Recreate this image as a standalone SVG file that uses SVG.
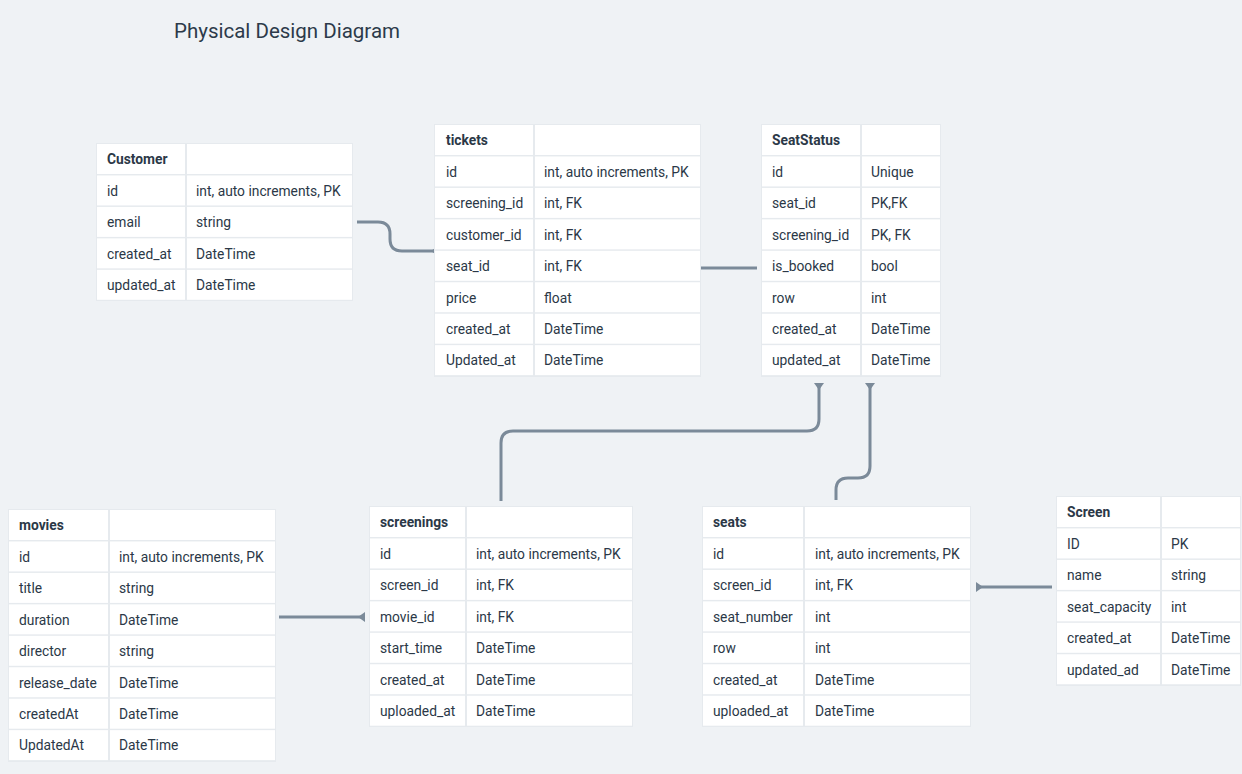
<svg xmlns="http://www.w3.org/2000/svg" width="1242" height="774" viewBox="0 0 1242 774">
<style>
.bg{fill:#eff2f5}
.frame{fill:#e6eaee}
.c{fill:#ffffff}
.t{font-family:Roboto,"Liberation Sans",sans-serif;font-size:13.8px;fill:#2b3847}
.h{font-family:Roboto,"Liberation Sans",sans-serif;font-size:13.8px;font-weight:bold;fill:#2b3847}
.title{font-family:Roboto,"Liberation Sans",sans-serif;font-size:20.5px;fill:#2c3a4a}
.conn{fill:none;stroke:#7b8a99;stroke-width:3}
</style>
<defs>
<marker id="bar" viewBox="0 0 7 10" refX="7" refY="5" markerWidth="7" markerHeight="10" markerUnits="userSpaceOnUse" orient="auto">
<path d="M7 0 L7 10 L0 5 Z" fill="#7b8a99"/>
</marker>
</defs>
<rect class="bg" x="0" y="0" width="1242" height="774"/>
<text class="title" x="174" y="38">Physical Design Diagram</text>

<g id="connectors">
<path class="conn" d="M357 222 H378 Q390 222 390 234 V239 Q390 251 402 251 H438" marker-end="url(#bar)"/>
<path class="conn" d="M700 268 H757"/>
<path class="conn" d="M501 501 V443 Q501 431 513 431 H807 Q819 431 819 419 V383" marker-end="url(#bar)"/>
<path class="conn" d="M836 500 V490 Q836 478 848 478 H858 Q870 478 870 466 V383" marker-end="url(#bar)"/>
<path class="conn" d="M279 617 H365" marker-end="url(#bar)"/>
<path class="conn" d="M1052 587 H976" marker-end="url(#bar)"/>
</g>

<g id="Customer" transform="translate(97,144)">
<rect class="frame" x="-1" y="-1" width="257" height="158"/>
<rect class="c" x="0" y="0" width="88" height="30"/><rect class="c" x="90" y="0" width="165" height="30"/>
<rect class="c" x="0" y="31.45" width="88" height="30"/><rect class="c" x="90" y="31.45" width="165" height="30"/>
<rect class="c" x="0" y="62.9" width="88" height="30"/><rect class="c" x="90" y="62.9" width="165" height="30"/>
<rect class="c" x="0" y="94.35" width="88" height="30"/><rect class="c" x="90" y="94.35" width="165" height="30"/>
<rect class="c" x="0" y="125.8" width="88" height="30"/><rect class="c" x="90" y="125.8" width="165" height="30"/>
<text class="h" x="10" y="20.3">Customer</text>
<text class="t" x="10" y="51.75">id</text><text class="t" x="99" y="51.75">int, auto increments, PK</text>
<text class="t" x="10" y="83.2">email</text><text class="t" x="99" y="83.2">string</text>
<text class="t" x="10" y="114.65">created_at</text><text class="t" x="99" y="114.65">DateTime</text>
<text class="t" x="10" y="146.1">updated_at</text><text class="t" x="99" y="146.1">DateTime</text>
</g>

<g id="tickets" transform="translate(435,125)">
<rect class="frame" x="-1" y="-1" width="267" height="253"/>
<rect class="c" x="0" y="0" width="98" height="30"/><rect class="c" x="100" y="0" width="165" height="30"/>
<rect class="c" x="0" y="31.45" width="98" height="30"/><rect class="c" x="100" y="31.45" width="165" height="30"/>
<rect class="c" x="0" y="62.9" width="98" height="30"/><rect class="c" x="100" y="62.9" width="165" height="30"/>
<rect class="c" x="0" y="94.35" width="98" height="30"/><rect class="c" x="100" y="94.35" width="165" height="30"/>
<rect class="c" x="0" y="125.8" width="98" height="30"/><rect class="c" x="100" y="125.8" width="165" height="30"/>
<rect class="c" x="0" y="157.25" width="98" height="30"/><rect class="c" x="100" y="157.25" width="165" height="30"/>
<rect class="c" x="0" y="188.7" width="98" height="30"/><rect class="c" x="100" y="188.7" width="165" height="30"/>
<rect class="c" x="0" y="220.15" width="98" height="30"/><rect class="c" x="100" y="220.15" width="165" height="30"/>
<text class="h" x="11" y="20.3">tickets</text>
<text class="t" x="11" y="51.75">id</text><text class="t" x="109" y="51.75">int, auto increments, PK</text>
<text class="t" x="11" y="83.2">screening_id</text><text class="t" x="109" y="83.2">int, FK</text>
<text class="t" x="11" y="114.65">customer_id</text><text class="t" x="109" y="114.65">int, FK</text>
<text class="t" x="11" y="146.1">seat_id</text><text class="t" x="109" y="146.1">int, FK</text>
<text class="t" x="11" y="177.55">price</text><text class="t" x="109" y="177.55">float</text>
<text class="t" x="11" y="209">created_at</text><text class="t" x="109" y="209">DateTime</text>
<text class="t" x="11" y="240.45">Updated_at</text><text class="t" x="109" y="240.45">DateTime</text>
</g>

<g id="SeatStatus" transform="translate(762,125)">
<rect class="frame" x="-1" y="-1" width="180" height="253"/>
<rect class="c" x="0" y="0" width="98" height="30"/><rect class="c" x="100" y="0" width="78" height="30"/>
<rect class="c" x="0" y="31.45" width="98" height="30"/><rect class="c" x="100" y="31.45" width="78" height="30"/>
<rect class="c" x="0" y="62.9" width="98" height="30"/><rect class="c" x="100" y="62.9" width="78" height="30"/>
<rect class="c" x="0" y="94.35" width="98" height="30"/><rect class="c" x="100" y="94.35" width="78" height="30"/>
<rect class="c" x="0" y="125.8" width="98" height="30"/><rect class="c" x="100" y="125.8" width="78" height="30"/>
<rect class="c" x="0" y="157.25" width="98" height="30"/><rect class="c" x="100" y="157.25" width="78" height="30"/>
<rect class="c" x="0" y="188.7" width="98" height="30"/><rect class="c" x="100" y="188.7" width="78" height="30"/>
<rect class="c" x="0" y="220.15" width="98" height="30"/><rect class="c" x="100" y="220.15" width="78" height="30"/>
<text class="h" x="10" y="20.3">SeatStatus</text>
<text class="t" x="10" y="51.75">id</text><text class="t" x="109" y="51.75">Unique</text>
<text class="t" x="10" y="83.2">seat_id</text><text class="t" x="109" y="83.2">PK,FK</text>
<text class="t" x="10" y="114.65">screening_id</text><text class="t" x="109" y="114.65">PK, FK</text>
<text class="t" x="10" y="146.1">is_booked</text><text class="t" x="109" y="146.1">bool</text>
<text class="t" x="10" y="177.55">row</text><text class="t" x="109" y="177.55">int</text>
<text class="t" x="10" y="209">created_at</text><text class="t" x="109" y="209">DateTime</text>
<text class="t" x="10" y="240.45">updated_at</text><text class="t" x="109" y="240.45">DateTime</text>
</g>

<g id="movies" transform="translate(9,510)">
<rect class="frame" x="-1" y="-1" width="268" height="253"/>
<rect class="c" x="0" y="0" width="99" height="30"/><rect class="c" x="101" y="0" width="165" height="30"/>
<rect class="c" x="0" y="31.45" width="99" height="30"/><rect class="c" x="101" y="31.45" width="165" height="30"/>
<rect class="c" x="0" y="62.9" width="99" height="30"/><rect class="c" x="101" y="62.9" width="165" height="30"/>
<rect class="c" x="0" y="94.35" width="99" height="30"/><rect class="c" x="101" y="94.35" width="165" height="30"/>
<rect class="c" x="0" y="125.8" width="99" height="30"/><rect class="c" x="101" y="125.8" width="165" height="30"/>
<rect class="c" x="0" y="157.25" width="99" height="30"/><rect class="c" x="101" y="157.25" width="165" height="30"/>
<rect class="c" x="0" y="188.7" width="99" height="30"/><rect class="c" x="101" y="188.7" width="165" height="30"/>
<rect class="c" x="0" y="220.15" width="99" height="30"/><rect class="c" x="101" y="220.15" width="165" height="30"/>
<text class="h" x="10" y="20.3">movies</text>
<text class="t" x="10" y="51.75">id</text><text class="t" x="110" y="51.75">int, auto increments, PK</text>
<text class="t" x="10" y="83.2">title</text><text class="t" x="110" y="83.2">string</text>
<text class="t" x="10" y="114.65">duration</text><text class="t" x="110" y="114.65">DateTime</text>
<text class="t" x="10" y="146.1">director</text><text class="t" x="110" y="146.1">string</text>
<text class="t" x="10" y="177.55">release_date</text><text class="t" x="110" y="177.55">DateTime</text>
<text class="t" x="10" y="209">createdAt</text><text class="t" x="110" y="209">DateTime</text>
<text class="t" x="10" y="240.45">UpdatedAt</text><text class="t" x="110" y="240.45">DateTime</text>
</g>

<g id="screenings" transform="translate(370,507)">
<rect class="frame" x="-1" y="-1" width="264" height="221"/>
<rect class="c" x="0" y="0" width="95" height="30"/><rect class="c" x="97" y="0" width="165" height="30"/>
<rect class="c" x="0" y="31.45" width="95" height="30"/><rect class="c" x="97" y="31.45" width="165" height="30"/>
<rect class="c" x="0" y="62.9" width="95" height="30"/><rect class="c" x="97" y="62.9" width="165" height="30"/>
<rect class="c" x="0" y="94.35" width="95" height="30"/><rect class="c" x="97" y="94.35" width="165" height="30"/>
<rect class="c" x="0" y="125.8" width="95" height="30"/><rect class="c" x="97" y="125.8" width="165" height="30"/>
<rect class="c" x="0" y="157.25" width="95" height="30"/><rect class="c" x="97" y="157.25" width="165" height="30"/>
<rect class="c" x="0" y="188.7" width="95" height="30"/><rect class="c" x="97" y="188.7" width="165" height="30"/>
<text class="h" x="10" y="20.3">screenings</text>
<text class="t" x="10" y="51.75">id</text><text class="t" x="106" y="51.75">int, auto increments, PK</text>
<text class="t" x="10" y="83.2">screen_id</text><text class="t" x="106" y="83.2">int, FK</text>
<text class="t" x="10" y="114.65">movie_id</text><text class="t" x="106" y="114.65">int, FK</text>
<text class="t" x="10" y="146.1">start_time</text><text class="t" x="106" y="146.1">DateTime</text>
<text class="t" x="10" y="177.55">created_at</text><text class="t" x="106" y="177.55">DateTime</text>
<text class="t" x="10" y="209">uploaded_at</text><text class="t" x="106" y="209">DateTime</text>
</g>

<g id="seats" transform="translate(703,507)">
<rect class="frame" x="-1" y="-1" width="269" height="221"/>
<rect class="c" x="0" y="0" width="100" height="30"/><rect class="c" x="102" y="0" width="165" height="30"/>
<rect class="c" x="0" y="31.45" width="100" height="30"/><rect class="c" x="102" y="31.45" width="165" height="30"/>
<rect class="c" x="0" y="62.9" width="100" height="30"/><rect class="c" x="102" y="62.9" width="165" height="30"/>
<rect class="c" x="0" y="94.35" width="100" height="30"/><rect class="c" x="102" y="94.35" width="165" height="30"/>
<rect class="c" x="0" y="125.8" width="100" height="30"/><rect class="c" x="102" y="125.8" width="165" height="30"/>
<rect class="c" x="0" y="157.25" width="100" height="30"/><rect class="c" x="102" y="157.25" width="165" height="30"/>
<rect class="c" x="0" y="188.7" width="100" height="30"/><rect class="c" x="102" y="188.7" width="165" height="30"/>
<text class="h" x="10" y="20.3">seats</text>
<text class="t" x="10" y="51.75">id</text><text class="t" x="112" y="51.75">int, auto increments, PK</text>
<text class="t" x="10" y="83.2">screen_id</text><text class="t" x="112" y="83.2">int, FK</text>
<text class="t" x="10" y="114.65">seat_number</text><text class="t" x="112" y="114.65">int</text>
<text class="t" x="10" y="146.1">row</text><text class="t" x="112" y="146.1">int</text>
<text class="t" x="10" y="177.55">created_at</text><text class="t" x="112" y="177.55">DateTime</text>
<text class="t" x="10" y="209">uploaded_at</text><text class="t" x="112" y="209">DateTime</text>
</g>

<g id="Screen" transform="translate(1057,497)">
<rect class="frame" x="-1" y="-1" width="185" height="190"/>
<rect class="c" x="0" y="0" width="103" height="30"/><rect class="c" x="105" y="0" width="78" height="30"/>
<rect class="c" x="0" y="31.45" width="103" height="30"/><rect class="c" x="105" y="31.45" width="78" height="30"/>
<rect class="c" x="0" y="62.9" width="103" height="30"/><rect class="c" x="105" y="62.9" width="78" height="30"/>
<rect class="c" x="0" y="94.35" width="103" height="30"/><rect class="c" x="105" y="94.35" width="78" height="30"/>
<rect class="c" x="0" y="125.8" width="103" height="30"/><rect class="c" x="105" y="125.8" width="78" height="30"/>
<rect class="c" x="0" y="157.25" width="103" height="30"/><rect class="c" x="105" y="157.25" width="78" height="30"/>
<text class="h" x="10" y="20.3">Screen</text>
<text class="t" x="10" y="51.75">ID</text><text class="t" x="114" y="51.75">PK</text>
<text class="t" x="10" y="83.2">name</text><text class="t" x="114" y="83.2">string</text>
<text class="t" x="10" y="114.65">seat_capacity</text><text class="t" x="114" y="114.65">int</text>
<text class="t" x="10" y="146.1">created_at</text><text class="t" x="114" y="146.1">DateTime</text>
<text class="t" x="10" y="177.55">updated_ad</text><text class="t" x="114" y="177.55">DateTime</text>
</g>
</svg>
